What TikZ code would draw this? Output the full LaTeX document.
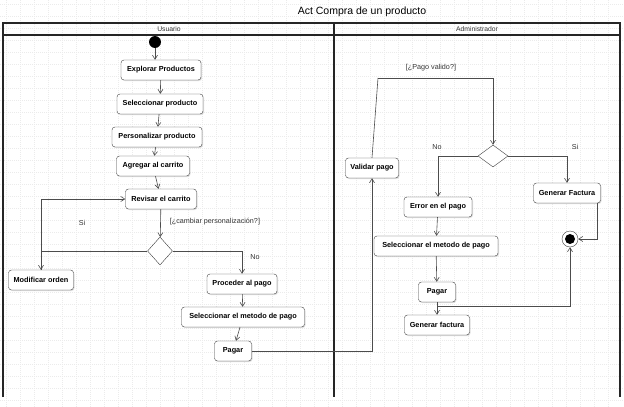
\documentclass[tikz,border=0pt]{standalone}
\usepackage{fontspec}
\setmainfont{Liberation Sans}
\usetikzlibrary{shapes.geometric,arrows.meta,shadows}

\begin{document}
\begin{tikzpicture}[x=1pt,y=-1pt,
    >={Straight Barb[length=4pt,width=5pt]},
    act/.style={rectangle, draw=black!75, rounded corners=3pt, fill=white, minimum height=20pt, inner xsep=2pt,
        drop shadow={shadow xshift=1pt, shadow yshift=-1pt, fill=black!25}, font=\fontsize{7.3}{9}\selectfont\bfseries},
    dec/.style={diamond, draw=black!75, fill=white, inner sep=0pt},
    lbl/.style={font=\fontsize{7.2}{9}\selectfont, text=black!80},
    lane/.style={font=\fontsize{6.8}{8}\selectfont, text=black!80},
    flow/.style={draw=black!70, line width=0.6pt},
    gridline/.style={draw=black!8, line width=0.4pt, dash pattern=on 1pt off 1pt}]

    \useasboundingbox (0,0) rectangle (624,407);

    % canvas grid
    \foreach \gx in {6,20,...,620} \draw[gridline] (\gx,0) -- (\gx,407);
    \foreach \gy in {4,16,...,404} \draw[gridline] (0,\gy) -- (624,\gy);

    \node[font=\fontsize{10.5}{12}\selectfont] (title) at (362,12) {Act Compra de un producto};

    % swimlanes
    \draw[line width=1.1pt, black!85] (3,397) -- (3,23) -- (620,23) -- (620,397);
    \draw[line width=1.1pt, black!85] (334,23) -- (334,397);
    \draw[line width=1.1pt, black!85] (3,35) -- (620,35);
    \node[lane] (usuario) at (169,29) {Usuario};
    \node[lane] (admin) at (477,29) {Administrador};

    % Usuario
    \node[circle, fill=black, inner sep=0pt, minimum size=12pt] (start) at (155,42) {};
    \node[act, minimum width=80pt] (explorar) at (161,70) {Explorar Productos};
    \node[act, minimum width=86pt] (selprod) at (160,104) {Seleccionar producto};
    \node[act, minimum width=90pt] (perso) at (157,137) {Personalizar producto};
    \node[act, minimum width=73pt] (agregar) at (153,166) {Agregar al carrito};
    \node[act, minimum width=71pt] (revisar) at (161,199) {Revisar el carrito};
    \node[dec, minimum width=25pt, minimum height=28pt] (cambiar) at (160,251) {};
    \node[act, minimum width=65pt] (modif) at (41,280) {Modificar orden};
    \node[act, minimum width=70pt] (proceder) at (242,284) {Proceder al pago};
    \node[act, minimum width=123pt] (metodo) at (243,317) {Seleccionar el metodo de pago};
    \node[act, minimum width=37pt] (pagar) at (233,351) {Pagar};

    \node[lbl] (gcambiar) at (215,222) {[¿cambiar personalización?]};
    \node[lbl] (si1) at (82,223) {Si};
    \node[lbl] (no1) at (255,257) {No};

    % Administrador
    \node[act, minimum width=53pt] (validar) at (372,168) {Validar pago};
    \node[dec, minimum width=30pt, minimum height=22pt] (valido) at (493,156) {};
    \node[act, minimum width=67pt] (genfact) at (567,193) {Generar Factura};
    \node[act, minimum width=68pt] (error) at (438,207) {Error en el pago};
    \node[act, minimum width=124pt] (metodo2) at (436,246) {Seleccionar el metodo de pago};
    \node[act, minimum width=37pt] (pagar2) at (437,292) {Pagar};
    \node[act, minimum width=65pt] (genfact2) at (437,325) {Generar factura};
    \node[circle, draw=black!75, fill=white, inner sep=0pt, minimum size=16pt] (final) at (570,239) {};
    \node[circle, fill=black, inner sep=0pt, minimum size=10pt] (finaldot) at (final) {};

    \node[lbl] (gvalido) at (431,68) {[¿Pago valido?]};
    \node[lbl] (no2) at (437,147) {No};
    \node[lbl] (si2) at (575,147) {Si};

    \coordinate (vuelta) at (378,78);
    \coordinate (fork) at (437,306);

    \draw[flow,->] (start) -- (start |- explorar.north);
    \draw[flow,->] (explorar) -- (selprod);
    \draw[flow,->] (selprod) -- (perso);
    \draw[flow,->] (perso) -- (agregar);
    \draw[flow,->] (agregar) -- (revisar);
    \draw[flow,->] (revisar) -- (cambiar);
    \draw[flow,->] (cambiar.west) -| (modif.north);
    \draw[flow,->] (modif.north) |- (revisar.west);
    \draw[flow,->] (cambiar.east) -| (proceder.north);
    \draw[flow,->] (proceder) -- (metodo);
    \draw[flow,->] (metodo) -- (pagar);
    \draw[flow,->] (pagar.east) -| (validar.south);

    \draw[flow] (validar.north) -- (vuelta);
    \draw[flow,->] (vuelta) -| (valido.north);
    \draw[flow,->] (valido.west) -| (error.north);
    \draw[flow,->] (valido.east) -| (genfact.north);
    \draw[flow,->] (error) -- (metodo2);
    \draw[flow,->] (metodo2) -- (pagar2);
    \draw[flow,->] (pagar2) -- (genfact2);
    \draw[flow,->] (fork) -| (final.south);
    \draw[flow,->] ([xshift=-3pt]genfact.south east) |- (final.east);
\end{tikzpicture}
\end{document}
